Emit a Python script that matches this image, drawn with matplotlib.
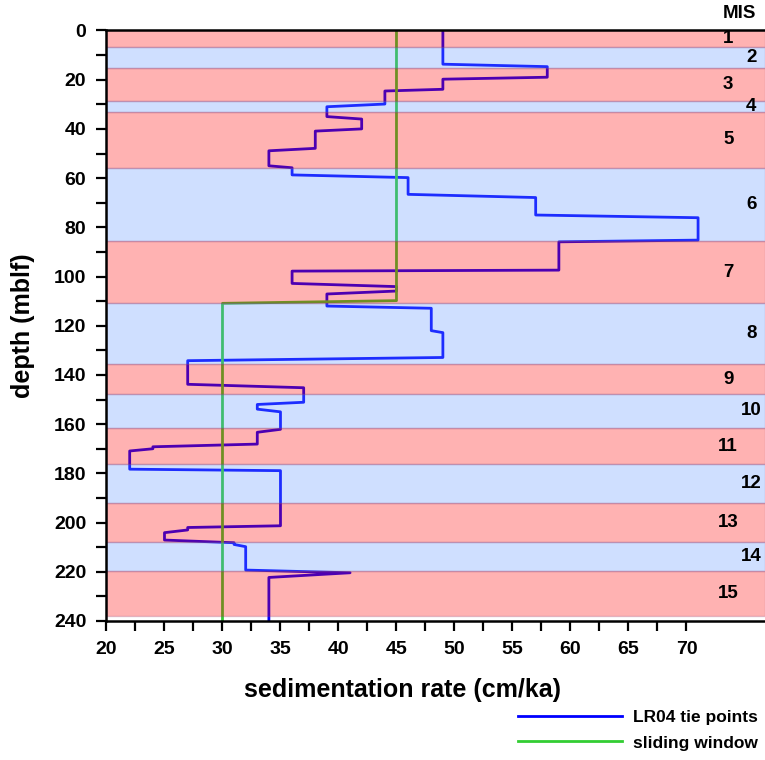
import matplotlib
matplotlib.use("Agg")
import matplotlib.pyplot as plt
from matplotlib.lines import Line2D
from matplotlib.ticker import FixedLocator, MultipleLocator
import numpy as np

# sedimentation rate (cm/ka) vs depth (mblf), LR04 tie points
LR04_RATE = [49, 49, 58, 58, 49, 49, 44, 44, 39, 39, 42, 42, 38, 38, 34, 34,
             36, 36, 46, 46, 57, 57, 71, 71, 59, 59, 36, 36, 45, 45, 39, 39,
             48, 48, 49, 49, 27, 27, 37, 37, 33, 33, 35, 35, 33, 33, 24, 24,
             22, 22, 35, 35, 27, 27, 25, 25, 31, 31, 32, 32, 41, 34, 34]
LR04_DEPTH = [0, 13.7, 14.7, 19.0, 19.8, 23.9, 24.6, 29.9, 31.0, 35.0, 36.0,
              40.0, 40.9, 47.9, 48.9, 55.0, 55.8, 58.7, 59.8, 66.6, 67.9, 75.0,
              76.1, 85.2, 85.9, 97.4, 97.8, 102.8, 104.1, 105.9, 107.1, 112.0,
              112.9, 122.0, 122.8, 132.9, 134.2, 143.8, 145.2, 151.1, 152.0,
              153.9, 155.0, 162.1, 163.3, 168.1, 169.2, 170.0, 170.9, 178.3,
              178.9, 201.3, 202.0, 203.0, 204.1, 207.1, 208.2, 208.9, 209.8,
              219.3, 220.4, 222.3, 240]

# sliding window estimate
WINDOW_RATE = [45, 45, 30, 30]
WINDOW_DEPTH = [0, 109.8, 110.9, 240]

# marine isotope stages: depth of top of each stage, last bottom
MIS_NUMBERS = list(range(1, 16))
MIS_TOP = [0, 6.6, 15.4, 28.5, 33.0, 56.0, 85.6, 110.9, 135.7, 147.8,
           161.5, 176.3, 192.2, 207.8, 219.7]
MIS_LAST_BOTTOM = 238.0

RED_BAND = (1.0, 0.0, 0.0, 0.3)
BLUE_BAND = (0.39, 0.59, 1.0, 0.3)
EDGE = (0.55, 0.25, 0.45, 0.25)

plt.rcParams["font.family"] = ["Liberation Sans", "DejaVu Sans"]
plt.rcParams["font.weight"] = "bold"

fig = plt.figure(figsize=(7.65, 7.6), dpi=100)
ax = fig.add_axes([0.1392, 0.1829, 0.8608, 0.777])

ax.plot(LR04_RATE, LR04_DEPTH, color="#0000FF", lw=2.0, zorder=2)
ax.plot(WINDOW_RATE, WINDOW_DEPTH, color="#32CD32", lw=2.0, zorder=2)

# stage bands drawn over the lines (translucent)
mis_bottom = MIS_TOP[1:] + [MIS_LAST_BOTTOM]
for num, top, bot in zip(MIS_NUMBERS, MIS_TOP, mis_bottom):
    face = RED_BAND if num % 2 else BLUE_BAND
    ax.axhspan(top, bot, facecolor=face, edgecolor=EDGE, lw=1, zorder=3)
    x_lab = 73.6 if num % 2 else 75.6
    ax.text(x_lab, (top + bot) / 2, str(num), ha="center", va="center",
            fontsize=13.5, fontweight="bold", zorder=4)

ax.text(74.6, -6.7, "MIS", ha="center", va="center", fontsize=13.5,
        fontweight="bold", clip_on=False)

ax.set_xlim(20, 76.77)
ax.set_ylim(240, 0)

ax.xaxis.set_major_locator(FixedLocator(np.arange(20, 70.1, 5)))
ax.xaxis.set_minor_locator(FixedLocator(np.arange(22.5, 70, 5)))
ax.yaxis.set_major_locator(MultipleLocator(20))
ax.yaxis.set_minor_locator(MultipleLocator(10))

ax.tick_params(which="both", direction="out", length=7.5, width=1.6,
               color="black")
ax.tick_params(axis="x", which="major", pad=7, labelsize=14)
ax.tick_params(axis="y", which="major", pad=7, labelsize=14)
for lab in ax.get_xticklabels() + ax.get_yticklabels():
    lab.set_fontweight("bold")

for side in ["left", "bottom", "top"]:
    ax.spines[side].set_linewidth(1.8)
    ax.spines[side].set_zorder(5)
ax.spines["right"].set_visible(False)

ax.set_xlabel("sedimentation rate (cm/ka)", fontsize=18, fontweight="bold")
ax.set_ylabel("depth (mblf)", fontsize=18, fontweight="bold")
ax.xaxis.set_label_coords(0.449, -0.097)
ax.yaxis.set_label_coords(-0.108, 0.5)

handles = [Line2D([], [], color="#0000FF", lw=2.0),
           Line2D([], [], color="#32CD32", lw=2.0)]
fig.legend(handles, ["LR04 tie points", "sliding window"],
           loc="upper left", bbox_to_anchor=(0.677, 0.066), frameon=False,
           handlelength=6.0, handletextpad=0.62,
           labelspacing=0.6, borderpad=0, borderaxespad=0,
           prop={"weight": "bold", "size": 12.5})

fig.savefig("out.png", dpi=100)
